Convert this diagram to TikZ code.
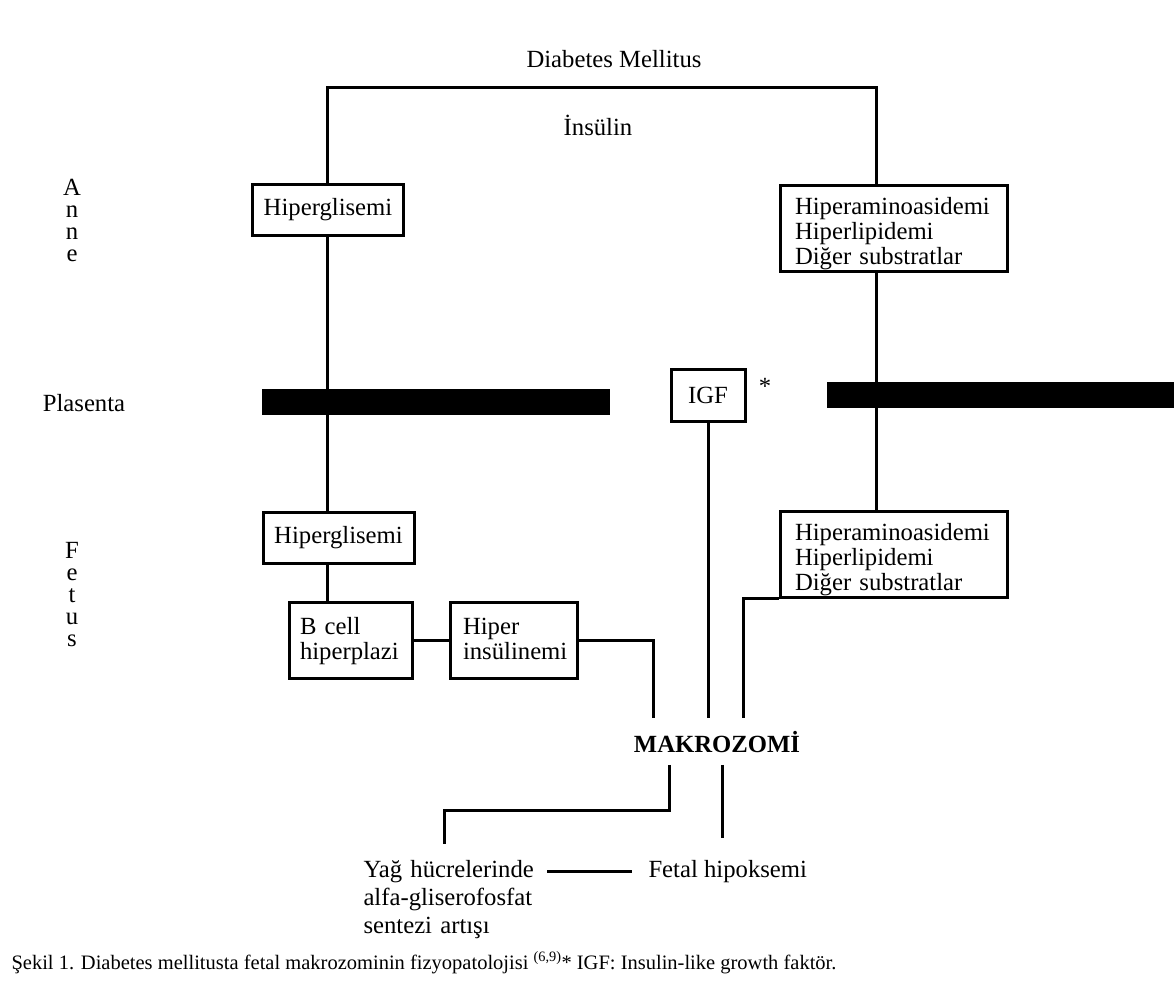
\documentclass[tikz,border=0pt]{standalone}
\usepackage{fontspec}
\setmainfont{Liberation Serif}
\usetikzlibrary{positioning}

\begin{document}
\begin{tikzpicture}[x=1pt, y=-1pt, line width=3pt,
  font=\fontsize{24.7}{25}\selectfont,
  box/.style={draw, inner sep=0pt, minimum width=151pt, minimum height=51pt},
  subbox/.style={draw, inner xsep=15pt, inner ysep=0pt, text width=197pt, align=left, text height=29pt, text depth=57pt},
  twobox/.style={draw, inner xsep=#1, inner ysep=0pt, text width=101pt, align=left, text height=32pt, text depth=44pt},
  bar/.style={fill=black, inner sep=0pt, minimum height=26pt},
  side/.style={text width=30pt, align=center, inner sep=0pt, anchor=base, font=\fontsize{24.7}{22}\selectfont}]
\path[fill=white] (0,0) rectangle (1174,1005);

\node[anchor=base] (dm) at (614,67) {Diabetes Mellitus};
\node[anchor=base] (ins) at (598,135) {İnsülin};
\node[side] (anne) at (72,195) {A\\n\\n\\e};
\node[side] (fetus) at (72,558) {F\\e\\t\\u\\s};
\node[anchor=base, inner sep=0pt] (plas) at (84,411) {Plasenta};

\node[box] (hgA) at (328,209.5) {Hiperglisemi};
\node[subbox] (subA) at (893.5,228) {Hiperaminoasidemi\\Hiperlipidemi\\Diğer substratlar};

\node[bar, minimum width=348pt] (barL) at (436,402) {};
\node[bar, minimum width=347pt] (barR) at (1000.5,395) {};
\node[box, minimum width=74pt, minimum height=52pt] (igf) at (708,395) {IGF};
\node[anchor=north, inner sep=0pt] (ast) at (765,377) {*};

\node[box] (hgB) at (338.5,537.5) {Hiperglisemi};
\node[subbox] (subB) at (893.5,554) {Hiperaminoasidemi\\Hiperlipidemi\\Diğer substratlar};
\node[twobox=11pt] (bcell) at (350.5,640) {B cell\\hiperplazi};
\node[twobox=13pt] (hiper) at (513.5,640) {Hiper\\insülinemi};

\node[anchor=base, inner xsep=0pt, inner ysep=11pt, font=\fontsize{24.7}{25}\selectfont\bfseries] (mak) at (717,752) {MAKROZOMİ};
\node[anchor=base west, inner sep=0pt, text width=185pt, align=left, font=\fontsize{24.7}{28}\selectfont] (yag) at (362,877) {Yağ hücrelerinde\\alfa-gliserofosfat\\sentezi artışı};
\node[anchor=base west, inner sep=0pt] (fetal) at (647,877) {Fetal hipoksemi};

\node[anchor=base west, inner sep=0pt, font=\fontsize{20.5}{22}\selectfont] (cap) at (10,969) {Şekil 1. Diabetes mellitusta fetal makrozominin fizyopatolojisi \textsuperscript{(6,9)}* IGF: Insulin-like growth faktör.};

\coordinate (tl) at (327,87);
\coordinate (tr) at (876,87);
\draw (tl |- hgA.north) -- (tl) -- (tr) -- (tr |- subA.north);
\draw (tl |- hgA.south) -- (tl |- hgB.north);
\draw (tl |- hgB.south) -- (tl |- bcell.north);
\draw (tr |- subA.south) -- (tr |- subB.north);
\draw (bcell.east) -- (hiper.west);

\coordinate (jA) at (653,640);
\coordinate (jB) at (743,0);
\draw (hiper.east) -- (jA) -- (jA |- mak.north);
\draw (igf.south) -- (igf.south |- mak.north);
\draw (subB.south west) -- (subB.south west -| jB) -- (jB |- mak.north);

\coordinate (jC) at (669,810);
\coordinate (jD) at (444,844);
\coordinate (jE) at (722,838);
\draw (mak.south -| jC) -- (jC) -- (jC -| jD) -- (jD);
\draw (mak.south -| jE) -- (jE);
\coordinate (dashL) at (547,871);
\draw (dashL) -- ([xshift=-15pt]fetal.west |- dashL);
\end{tikzpicture}
\end{document}
